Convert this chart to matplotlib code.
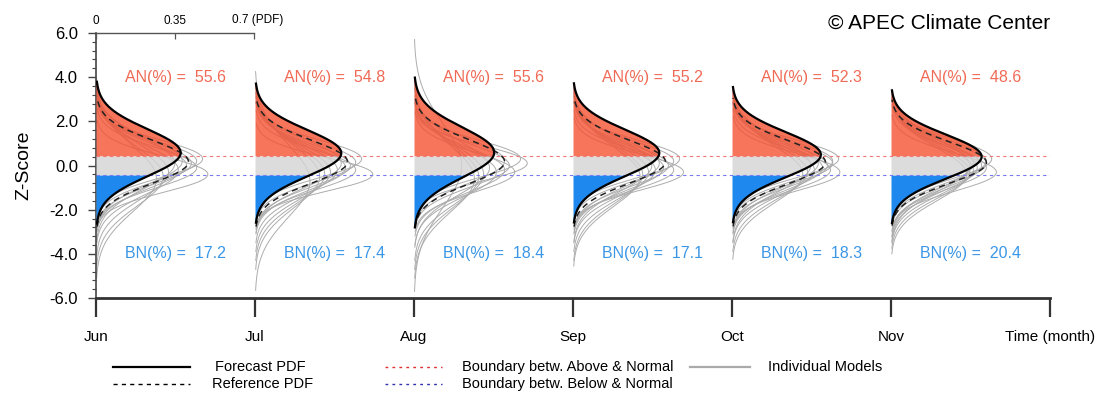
import numpy as np
import matplotlib
matplotlib.use("Agg")
import matplotlib.pyplot as plt
from matplotlib.ticker import MultipleLocator
from matplotlib.lines import Line2D

plt.rcParams['font.family'] = ['Liberation Sans', 'DejaVu Sans']
plt.rcParams['axes.unicode_minus'] = False

# ---------------- data ----------------
months = ["Jun", "Jul", "Aug", "Sep", "Oct", "Nov"]
xtick_labels = months + ["Time (month)"]
an_pct = [55.6, 54.8, 55.6, 55.2, 52.3, 48.6]
bn_pct = [17.2, 17.4, 18.4, 17.1, 18.3, 20.4]

# forecast PDF (normal) mean / std per month
fc_mean = [0.58, 0.56, 0.59, 0.57, 0.49, 0.40]
fc_std = [1.07, 1.05, 1.13, 1.05, 1.02, 1.00]

# reference PDF mean / std per month
ref_mean = [0.17, 0.17, 0.17, 0.17, 0.15, 0.13]
ref_std = [0.98, 0.98, 1.00, 0.98, 0.97, 0.95]

# individual model PDFs (mean, std) per month
models_jun = [(0.3, 0.85), (0.2, 0.9), (0.1, 0.95), (0.0, 1.0), (-0.1, 0.9), (-0.4, 0.81),
              (-0.2, 1.1), (-0.3, 1.25), (-0.5, 1.35), (0.1, 1.15), (-0.6, 1.5), (0.2, 1.05)]
models_jul = [(0.3, 0.85), (0.15, 0.9), (0.0, 0.95), (-0.4, 0.77), (-0.1, 1.0), (-0.2, 1.1),
              (-0.3, 1.2), (-0.4, 1.3), (-0.5, 1.4), (-0.7, 1.65), (0.1, 1.05), (-0.2, 0.9)]
models_aug = [(0.3, 0.85), (0.1, 0.8), (0.0, 0.95), (-0.2, 1.0), (-0.3, 1.1), (-0.1, 1.2),
              (-0.4, 1.3), (-0.5, 1.4), (0.0, 1.9), (0.2, 1.0), (-0.3, 0.9), (-0.6, 1.5)]
models_sep = [(0.3, 0.85), (0.2, 0.9), (0.0, 0.95), (-0.3, 0.82), (-0.1, 1.0), (-0.2, 1.1),
              (-0.3, 1.2), (-0.4, 1.3), (0.1, 1.05), (-0.5, 1.35), (0.0, 1.15), (-0.2, 0.9)]
models_oct = [(0.3, 0.85), (0.2, 0.9), (0.0, 0.95), (-0.3, 0.84), (-0.1, 1.0), (-0.2, 1.1),
              (-0.3, 1.2), (-0.4, 1.28), (0.1, 1.05), (0.0, 1.15), (-0.2, 0.92), (0.1, 0.9)]
models_nov = [(0.3, 0.9), (0.2, 0.95), (0.1, 0.95), (-0.3, 0.86), (0.0, 1.0), (-0.1, 1.05),
              (-0.2, 1.1), (-0.3, 1.15), (0.1, 1.1), (-0.1, 0.95), (-0.4, 1.2), (0.0, 1.15)]
models_all = [models_jun, models_jul, models_aug, models_sep, models_oct, models_nov]

upper_bound = 0.43
lower_bound = -0.43
pdf_per_month = 0.7   # PDF value spanning one month on the time axis

# --------------- colours ---------------
c_an = "#f45232"
c_nn = "#d4d4d4"
c_bn = "#1e88ee"
c_an_txt = "#f06a55"
c_bn_txt = "#3a96e6"
c_model = "#acacac"


def normal_curve(m, s, n=300):
    z = np.linspace(m - 3 * s, m + 3 * s, n)
    p = np.exp(-0.5 * ((z - m) / s) ** 2) / (s * np.sqrt(2 * np.pi))
    return z, p


W, H = 1109, 420
fig = plt.figure(figsize=(W / 100, H / 100), dpi=100)
L, R, T, B = 96, 1050, 33, 298
ax = fig.add_axes([L / W, 1 - B / H, (R - L) / W, (B - T) / H])
ax.set_xlim(0, 6)
ax.set_ylim(-6, 6)

for i in range(len(months)):
    # individual models
    for (m, s) in models_all[i]:
        z, p = normal_curve(m, s)
        ax.plot(i + p / pdf_per_month, z, color=c_model, lw=0.7, zorder=2)
    # forecast fills
    z, p = normal_curve(fc_mean[i], fc_std[i], 600)
    xx = i + p / pdf_per_month
    ax.fill_betweenx(z, i, xx, where=z >= upper_bound, color=c_an, alpha=0.8, lw=0, zorder=3)
    ax.fill_betweenx(z, i, xx, where=(z <= upper_bound) & (z >= lower_bound), color=c_nn,
                     alpha=0.8, lw=0, zorder=3)
    ax.fill_betweenx(z, i, xx, where=z <= lower_bound, color=c_bn, lw=0, zorder=3)
    # reference pdf
    zr, pr = normal_curve(ref_mean[i], ref_std[i])
    ax.plot(i + pr / pdf_per_month, zr, color="#222222", lw=1.1, ls=(0, (4, 3)), zorder=5)
    # forecast pdf
    ax.plot(xx, z, color="black", lw=1.6, zorder=6)
    ax.text(i + 0.5, 4.0, f"AN(%) =  {an_pct[i]:.1f}", color=c_an_txt, fontsize=11.5,
            ha="center", va="center", zorder=7)
    ax.text(i + 0.5, -4.0, f"BN(%) =  {bn_pct[i]:.1f}", color=c_bn_txt, fontsize=11.5,
            ha="center", va="center", zorder=7)

ax.plot([0, 6], [upper_bound, upper_bound], color="#f07878", lw=0.8, ls=(0, (3, 3)), zorder=4)
ax.plot([0, 6], [lower_bound, lower_bound], color="#7878f0", lw=0.8, ls=(0, (3, 3)), zorder=4)

# axes styling
for sp in ["top", "right"]:
    ax.spines[sp].set_visible(False)
ax.spines["bottom"].set_linewidth(2.0)
ax.spines["bottom"].set_color("#333333")
ax.spines["left"].set_linewidth(1.2)
ax.spines["left"].set_color("#444444")
ax.set_xticks(range(len(xtick_labels)))
ax.set_xticklabels(xtick_labels, fontsize=11)
ax.tick_params(axis="x", direction="out", length=14, width=1.6, color="#333333", pad=9)
ax.set_yticks(np.arange(-6, 6.1, 2))
ax.set_yticklabels([f"{v:.1f}" for v in np.arange(-6, 6.1, 2)], fontsize=12)
ax.yaxis.set_minor_locator(MultipleLocator(0.4))
ax.tick_params(axis="y", which="major", direction="out", length=6, width=1.0, color="#444444", pad=7)
ax.tick_params(axis="y", which="minor", direction="out", length=3, width=0.8, color="#444444")
ax.set_ylabel("Z-Score", fontsize=14, labelpad=12)

# top PDF scale over first month
axt = fig.add_axes([L / W, 1 - B / H, 158 / W, (B - T) / H], facecolor="none")
axt.set_xlim(0, 0.7)
axt.set_ylim(0, 1)
for sp in ["bottom", "left", "right"]:
    axt.spines[sp].set_visible(False)
axt.spines["top"].set_color("#555555")
axt.spines["top"].set_linewidth(1.0)
axt.set_yticks([])
axt.xaxis.set_ticks_position("top")
axt.set_xticks([0, 0.35, 0.7])
axt.set_xticklabels(["0", "0.35", ""], fontsize=8.5)
axt.tick_params(axis="x", direction="in", length=4, width=0.9, color="#555555", pad=4)
axt.annotate("0.7 (PDF)", xy=(0.7, 1), xycoords="data", xytext=(-16, 5),
             textcoords="offset points", fontsize=8.5, ha="left", va="bottom")

fig.text(1050 / W, 1 - 23 / H, "© APEC Climate Center", fontsize=15, ha="right", va="center")

# legend (manual, figure pixel coordinates)
lg = fig.add_axes([0, 0, 1, 1], facecolor="none")
lg.set_xlim(0, W)
lg.set_ylim(H, 0)
lg.axis("off")
r1, r2 = 367, 384
lg.add_line(Line2D([113, 190], [r1, r1], color="black", lw=1.6))
lg.text(215, r1, "Forecast PDF", fontsize=10.5, va="center")
lg.add_line(Line2D([113, 190], [r2, r2], color="black", lw=1.0, ls=(0, (3, 3))))
lg.text(212, r2, "Reference PDF", fontsize=10.5, va="center")
lg.add_line(Line2D([385, 442], [r1, r1], color="#e03030", lw=1.0, ls=(0, (2, 3))))
lg.text(462, r1, "Boundary betw. Above & Normal", fontsize=10.5, va="center")
lg.add_line(Line2D([385, 442], [r2, r2], color="#3030b0", lw=1.0, ls=(0, (2, 3))))
lg.text(462, r2, "Boundary betw. Below & Normal", fontsize=10.5, va="center")
lg.add_line(Line2D([690, 750], [r1, r1], color="#aaaaaa", lw=1.6))
lg.text(768, r1, "Individual Models", fontsize=10.5, va="center")

fig.savefig("out.png", dpi=100)
